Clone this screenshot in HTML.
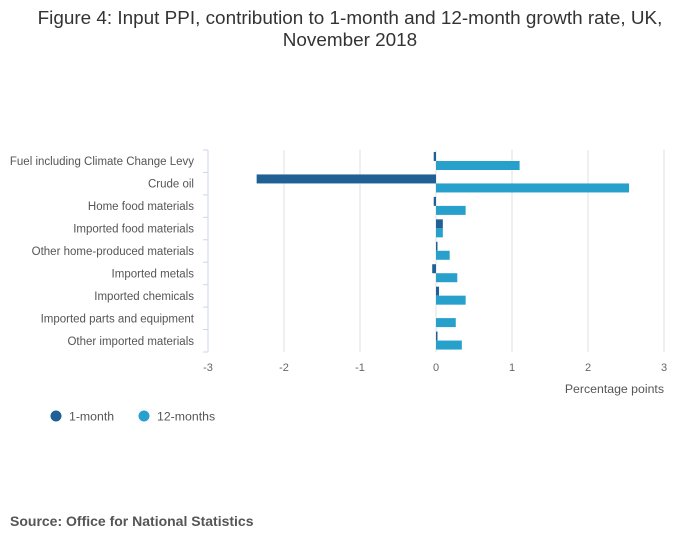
<!DOCTYPE html>
<html><head><meta charset="utf-8"><style>
body{margin:0;background:#fff;font-family:"Liberation Sans",sans-serif;}
svg text{font-family:"Liberation Sans",sans-serif;}
</style></head><body>
<svg id="chart" width="700" height="549" xmlns="http://www.w3.org/2000/svg">
<text x="350" y="24" text-anchor="middle" font-size="18.9" fill="#333">Figure 4: Input PPI, contribution to 1-month and 12-month growth rate, UK,</text>
<text x="350" y="46" text-anchor="middle" font-size="18.9" fill="#333">November 2018</text>
<g id="grid"></g><g id="bars"></g><g id="axes"></g>
<text x="664" y="393" text-anchor="end" font-size="12.3" fill="#555">Percentage points</text>
<circle cx="56" cy="416" r="5.5" fill="#206095"/>
<text x="69" y="420.5" font-size="12.3" fill="#555">1-month</text>
<circle cx="144" cy="416" r="5.5" fill="#27a0cc"/>
<text x="157" y="420.5" font-size="12.3" fill="#555">12-months</text>
<text x="10" y="526" font-size="14" font-weight="bold" fill="#555">Source: Office for National Statistics</text>
</svg>
<script>
const categories=["Fuel including Climate Change Levy","Crude oil","Home food materials","Imported food materials","Other home-produced materials","Imported metals","Imported chemicals","Imported parts and equipment","Other imported materials"];
const oneMonth=[-0.03,-2.36,-0.03,0.09,0.01,-0.05,0.04,0,0.01];
const twelveMonths=[1.1,2.54,0.39,0.09,0.18,0.28,0.39,0.26,0.34];
const ticks=[-3,-2,-1,0,1,2,3];
const NS="http://www.w3.org/2000/svg";
const x0=208,x1=664,yTop=150,yBot=352;
const xs=v=>x0+(v+3)/6*(x1-x0);
const rowH=(yBot-yTop)/categories.length;
function mk(t,a,p){const e=document.createElementNS(NS,t);for(const k in a)e.setAttribute(k,a[k]);p.appendChild(e);return e;}
const grid=document.getElementById('grid'),bars=document.getElementById('bars'),axes=document.getElementById('axes');
ticks.forEach(t=>{
 if(t!==-3){const l=mk('line',{x1:xs(t),x2:xs(t),y1:yTop,y2:yBot,stroke:'#e2e2e2','stroke-width':1},grid);
 
 }
 const tx=mk('text',{x:xs(t),y:371,'text-anchor':'middle','font-size':'11',fill:'#666'},axes);
 tx.textContent=t;
 
 
});
const ax=mk('line',{x1:x0,x2:x0,y1:yTop,y2:yBot,stroke:'#ccd6eb','stroke-width':1},axes);


for(let i=0;i<=categories.length;i++){
 const y=yTop+i*rowH;
 const tk=mk('line',{x1:x0-5,x2:x0,y1:y,y2:y,stroke:'#ccd6eb','stroke-width':1},axes);
 
 
}
categories.forEach((c,i)=>{
 const yc=yTop+i*rowH+rowH/2;
 const t=mk('text',{x:194,y:yc+4,'text-anchor':'end','font-size':'11.5',fill:'#555'},axes);
 t.textContent=c;
 
 
 [[oneMonth,'#206095',0],[twelveMonths,'#27a0cc',1]].forEach(([arr,col,k])=>{
  const v=arr[i];const a=xs(0),b=xs(v);
  const w=Math.max(Math.abs(b-a),v===0?0:1.5);
  const r=mk('rect',{x:v<0?a-w:a,y:yTop+i*rowH+2+k*9,width:w,height:9,fill:col},bars);
  
  
 });
});
</script>
</body></html>
